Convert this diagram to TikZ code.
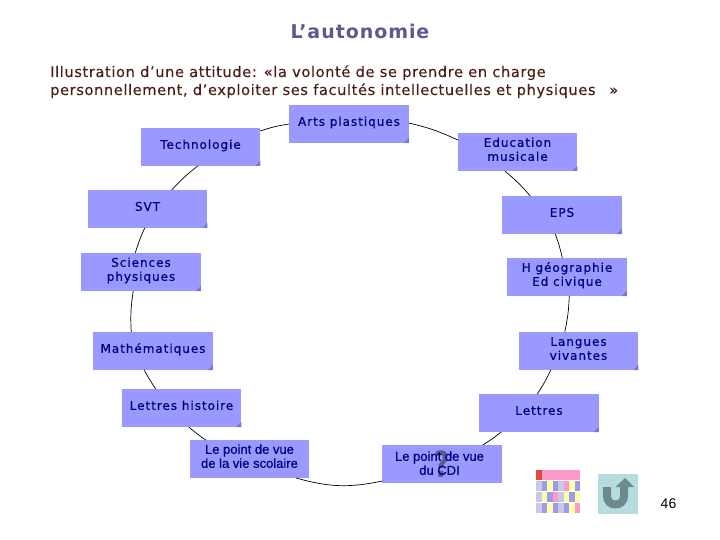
\documentclass[tikz,border=0pt]{standalone}
\usepackage{fontspec}
\setmainfont{DejaVu Sans}
\newfontfamily\boxfont[LetterSpace=8,FakeBold=0.45]{DejaVu Sans}
\newfontfamily\titlefont[LetterSpace=5]{DejaVu Sans Bold}
\newfontfamily\bodyfont[LetterSpace=4.2,FakeBold=0.12]{DejaVu Sans}
\newfontfamily\arialfont[FakeBold=0.6]{Liberation Sans}
\newfontfamily\numfont{Liberation Sans}
\definecolor{boxblue}{HTML}{9999FF}
\definecolor{foldblue}{HTML}{7777CC}
\definecolor{navytext}{HTML}{000080}
\definecolor{browntext}{HTML}{4A1E12}
\definecolor{titleblue}{HTML}{5A5A8C}
\definecolor{teal1}{HTML}{B5DDE0}
\definecolor{teal2}{HTML}{6E898D}
\definecolor{gl}{HTML}{C8C8E8}
\definecolor{gb}{HTML}{9C9CE8}
\definecolor{gy}{HTML}{FFFFA8}
\definecolor{gp}{HTML}{FF99CC}
\definecolor{gr}{HTML}{E04A40}
\newcommand{\lbl}[1]{\raisebox{-2pt}[0pt][0pt]{\begin{tabular}{@{}c@{}}#1\end{tabular}}}
\newcommand{\foldc}[1]{\fill[foldblue] (#1.south east) -- ++(-5,0) -- ++(5,-5) -- cycle;}
\newcommand{\gridrow}[2]{\foreach \c [count=\i from 0] in {#2} {\fill[\c] (536+5.5*\i,#1) rectangle ++(5.5,10);}}
\tikzset{
  subject/.style={fill=boxblue,minimum width=119.5pt,minimum height=38pt,inner sep=0pt,outer sep=0pt,
    text=navytext,font=\boxfont\fontsize{12}{14}\selectfont,align=center},
  viewbox/.style={subject,font=\arialfont\fontsize{13}{14}\selectfont},
  introtext/.style={text=browntext,font=\bodyfont\fontsize{14.6}{16}\selectfont,inner sep=0pt,anchor=base west},
  link/.style={black,line width=0.7pt}
}
\begin{document}
\begin{tikzpicture}[x=1pt,y=-1pt]
\useasboundingbox (0,0) rectangle (720,540);
\fill[white] (0,0) rectangle (720,540);
\node[name=title,anchor=center,text=titleblue,font=\titlefont\fontsize{19}{22}\selectfont,inner sep=0pt] at (360,31) {L’autonomie};
\node[name=intro1,introtext] at (50,77) {Illustration d’une attitude: «la volonté de se prendre en charge};
\node[name=intro2,introtext] at (50,95) {personnellement, d’exploiter ses facultés intellectuelles et physiques};
\node[name=introq,introtext] at (609,95) {»};

\node[subject] (arts) at (349,124) {\lbl{Arts plastiques}};
\node[subject] (tech) at (200.5,147) {\lbl{Technologie}};
\node[subject] (edu) at (517.5,152) {\lbl{Education\\musicale}};
\node[subject] (svt) at (147.5,209) {\lbl{SVT}};
\node[subject] (eps) at (562,215) {\lbl{EPS}};
\node[subject] (sci) at (141,272) {\lbl{Sciences\\physiques}};
\node[subject] (hgeo) at (567,277) {\lbl{H géographie\\Ed civique}};
\node[subject] (math) at (153,351) {\lbl{Mathématiques}};
\node[subject] (lang) at (578.5,351) {\lbl{Langues\\vivantes}};
\node[subject] (lhist) at (181.5,408) {\lbl{Lettres histoire}};
\node[subject] (lett) at (539,413) {\lbl{Lettres}};
\node[viewbox] (vie) at (249.5,459) {\lbl{Le point de vue\\de la vie scolaire}};
\node[viewbox] (cdibox) at (442,464) {};
\node[name=qmark,xscale=.72,text=titleblue,font=\fontspec{DejaVu Sans Bold}\fontsize{36}{36}\selectfont,inner sep=0pt] at (442,464) {?};
\node[viewbox,fill=none,minimum width=0pt] (cdi) at (439.5,466) {\lbl{Le point de vue\\du CDI}};

\foreach \n in {arts,tech,edu,svt,eps,sci,hgeo,math,lang,lhist,lett} {\foldc{\n}}

\draw[link] (arts.west) to[bend right=5] ([yshift=-3pt]tech.north east);
\draw[link] ([xshift=57pt]tech.south west) to[bend right=5] ([xshift=84pt]svt.north west);
\draw[link] ([xshift=57pt]svt.south west) to[bend right=4] ([xshift=54pt]sci.north west);
\draw[link] ([xshift=52pt]sci.south west) to[bend right=6] ([xshift=38pt]math.north west);
\draw[link] ([xshift=51pt]math.south west) to[bend right=3] ([xshift=34pt]lhist.north west);
\draw[link] ([xshift=67pt]lhist.south west) to[bend right=3] ([xshift=16pt]vie.north west);
\draw[link] ([xshift=-13pt]vie.south east) to[bend right=14] ([yshift=2pt]cdibox.south west);
\draw[link] ([xshift=-19pt]cdibox.north east) to[bend right=3] ([xshift=22pt]lett.south west);
\draw[link] ([xshift=58pt]lett.north west) to[bend right=4] ([xshift=32pt]lang.south west);
\draw[link] ([xshift=46pt]lang.north west) to[bend right=5] ([xshift=62pt]hgeo.south west);
\draw[link] ([xshift=55pt]hgeo.north west) to[bend right=4] ([xshift=53pt]eps.south west);
\draw[link] ([xshift=28pt]eps.north west) to[bend right=5] ([xshift=47pt]edu.south west);
\draw[link] ([yshift=-7pt]edu.north west) to[bend right=6] ([yshift=-18pt]arts.north east);

% colour grid
\gridrow{469.5}{gr,gp,gp,gp,gp,gp,gp,gp}
\gridrow{481}{gl,gb,gy,gb,gl,gp,gy,gb}
\gridrow{492}{gl,gy,gb,gp,gl,gy,gb,gy}
\gridrow{503}{gl,gb,gy,gb,gl,gb,gy,gp}
% return button
\fill[teal1] (598,474) rectangle (638,514);
\draw[teal2,line width=8pt] (607,487) -- (607,496) .. controls (607,507.3) and (624,507.3) .. (624,496) -- (624,486);
\fill[teal2] (615.5,487) -- (625,478) -- (634,487) -- cycle;
\node[name=pagenum,anchor=center,text=black,font=\numfont\fontsize{14}{16}\selectfont,inner sep=0pt] at (668.5,504) {46};
\end{tikzpicture}
\end{document}
